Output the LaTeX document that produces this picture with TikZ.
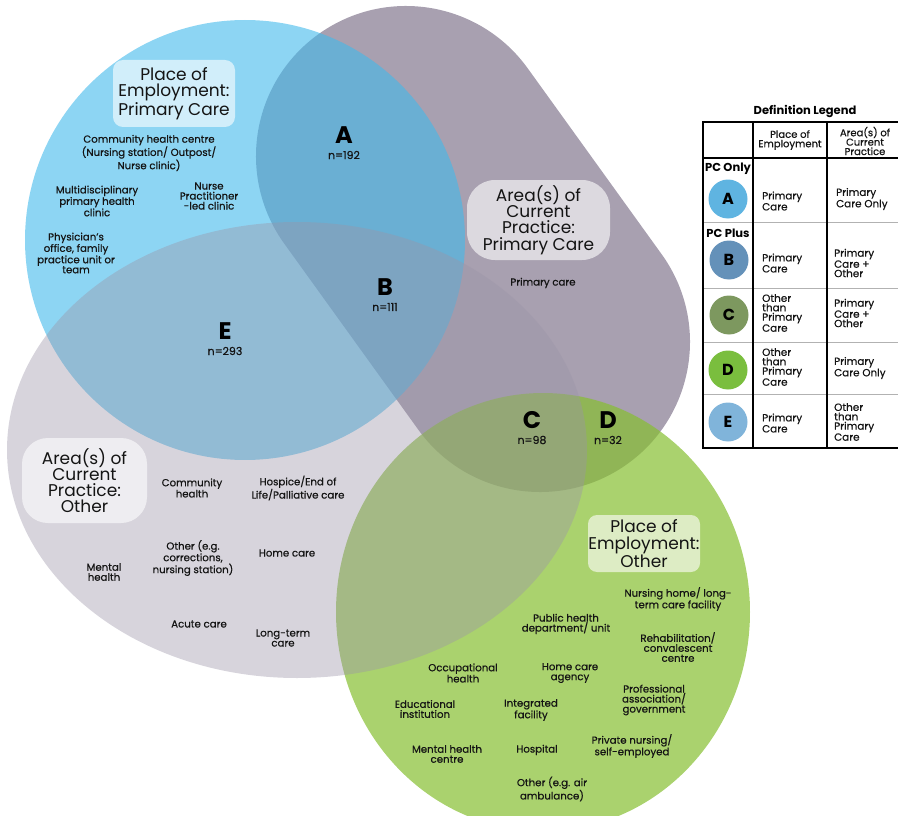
\documentclass[tikz,border=0pt]{standalone}
\usepackage{fontspec}
\setmainfont{Poppins}
\newfontfamily\itemfont{Poppins}[FakeBold=0.6]
\usepackage{tikz}
\usetikzlibrary{ % tikz packages
    positioning
}
\definecolor{pcblue}{RGB}{65,185,235}
\definecolor{pcpurple}{RGB}{168,160,176}
\definecolor{othgreen}{RGB}{134,191,48}
\definecolor{othgray}{RGB}{155,148,168}
\definecolor{inktext}{RGB}{20,20,20}
\tikzset{
    setbox/.style={fill=white, fill opacity=0.6, text opacity=1,
        align=center, inner sep=0pt, text=inktext,
        font=\fontsize{17}{16.2}\selectfont},
    item/.style={align=center, inner sep=0pt, text=inktext,
        font=\itemfont\fontsize{10.2}{10}\selectfont},
    region/.style={inner sep=0pt, font=\fontsize{24}{24}\selectfont\bfseries},
    count/.style={inner sep=0pt, text=inktext, font=\itemfont\fontsize{11}{11}\selectfont},
    lgtext/.style={align=left, anchor=west, inner sep=0pt, text=inktext,
        font=\itemfont\fontsize{10.4}{9.4}\selectfont},
    lgdot/.style={circle, minimum size=39pt, inner sep=0pt,
        font=\fontsize{16}{16}\selectfont\bfseries},
    lghead/.style={inner sep=0pt, font=\fontsize{11.5}{11.5}\selectfont\bfseries}
}

\begin{document}
\begin{tikzpicture}[x=1pt,y=-1pt,node distance=20pt,on grid]
    \useasboundingbox (0,0) rectangle (898,816);
    % the four sets
    \draw[pcpurple, line width=300pt, line cap=round] (406,156) -- (540,342);
    \fill[pcblue, fill opacity=0.6] (245,240) circle[radius=220];
    \fill[othgreen, fill opacity=0.7] (543,612) ellipse[x radius=207, y radius=219];
    \fill[othgray, fill opacity=0.4] (297,450) ellipse[x radius=290, y radius=228];

    % set names
    \node[setbox, rounded corners=10pt, minimum width=122pt, minimum height=67pt]
        (pcEmp) at (174,93.5) {Place of\\Employment:\\Primary Care};
    \node[setbox, rounded corners=28pt, minimum width=143pt, minimum height=80pt]
        (pcArea) at (538.5,220) {Area(s) of\\Current\\Practice:\\Primary Care};
    \node[setbox, rounded corners=26pt, minimum width=125pt, minimum height=85pt]
        (othArea) at (84.5,480.5) {Area(s) of\\Current\\Practice:\\Other};
    \node[setbox, rounded corners=9pt, minimum width=112pt, minimum height=57pt]
        (othEmp) at (644,543.5) {Place of\\Employment:\\Other};

    % regions
    \node[region] (A) at (344,135) {A};
    \node[count] (nA) [below=of A] {n=192};
    \node[region] (B) at (385,287) {B};
    \node[count] (nB) [below=of B] {n=111};
    \node[region] (C) at (532,420) {C};
    \node[count] (nC) [below=of C] {n=98};
    \node[region] (D) at (608,420) {D};
    \node[count] (nD) [below=of D] {n=32};
    \node[region] (E) at (225,331) {E};
    \node[count] (nE) [below=of E] {n=293};

    % primary care employment
    \node[item] (chc) at (149,153) {Community health centre\\(Nursing station/ Outpost/\\Nurse clinic)};
    \node[item] (mdc) at (97,201) {Multidisciplinary\\primary health\\clinic};
    \node[item] (npc) at (209,196) {Nurse\\Practitioner\\-led clinic};
    \node[item] (phy) at (76,253) {Physician’s\\office, family\\practice unit or\\team};
    % primary care practice
    \node[item] (pcare) at (543,283) {Primary care};
    % other practice
    \node[item] (comm) at (192,488) {Community\\health};
    \node[item] (hosp) at (298,488) {Hospice/End of\\Life/Palliative care};
    \node[item] (oth) at (193,558) {Other (e.g.\\corrections,\\nursing station)};
    \node[item] (home) at (287,553) {Home care};
    \node[item] (ment) at (104,572) {Mental\\health};
    \node[item] (acute) at (199,624) {Acute care};
    \node[item] (ltc) at (283,638) {Long-term\\care};
    % other employment
    \node[item] (nurh) at (678,599) {Nursing home/ long-\\term care facility};
    \node[item] (pub) at (566,624) {Public health\\department/ unit};
    \node[item] (rehab) at (678,647) {Rehabilitation/\\convalescent\\centre};
    \node[item] (occ) at (463,673) {Occupational\\health};
    \node[item] (hca) at (570,673) {Home care\\agency};
    \node[item] (prof) at (654,700) {Professional\\association/\\government};
    \node[item] (edu) at (425,709) {Educational\\institution};
    \node[item] (integ) at (531,710) {Integrated\\facility};
    \node[item] (mhc) at (447,754) {Mental health\\centre};
    \node[item] (hsp) at (537,750) {Hospital};
    \node[item] (priv) at (632,746) {Private nursing/\\self-employed};
    \node[item] (air) at (552,789) {Other (e.g. air\\ambulance)};

    % legend
    \node[lghead] (lgTitle) at (805,111) {Definition Legend};
    \draw[gray!60, line width=0.6pt] (703,222) -- (899,222) (703,288) -- (899,288)
        (703,342) -- (899,342) (703,394) -- (899,394);
    \draw[line width=1.1pt] (703,122) rectangle (899,448)
        (753,122) -- (753,448) (827,122) -- (827,448) (703,158) -- (899,158);
    \node[item, font=\itemfont\fontsize{10}{9.4}\selectfont] (hEmp) at (790,140) {Place of\\Employment};
    \node[item, font=\itemfont\fontsize{10}{9.4}\selectfont] (hArea) at (865,141) {Area(s) of\\Current\\Practice};
    \node[lghead] (pcOnly) at (728,169) {PC Only};
    \node[lghead] (pcPlus) at (728,233) {PC Plus};
    \node[lgdot, fill={rgb,255:red,95;green,180;blue,225}] (lgA) at (728,199) {A};
    \node[lgdot, fill={rgb,255:red,100;green,145;blue,185}] (lgB) at (729,260) {B};
    \node[lgdot, fill={rgb,255:red,125;green,152;blue,95}] (lgC) at (729,315) {C};
    \node[lgdot, fill={rgb,255:red,122;green,190;blue,62}] (lgD) at (728,370) {D};
    \node[lgdot, fill={rgb,255:red,128;green,180;blue,218}] (lgE) at (728,422) {E};
    \node[lgtext] (aEmp) at (762,201) {Primary\\Care};
    \node[lgtext] (aArea) at (836,199) {Primary\\Care Only};
    \node[lgtext] (bEmp) at (762,263) {Primary\\Care};
    \node[lgtext] (bArea) at (834,263) {Primary\\Care +\\Other};
    \node[lgtext] (cEmp) at (762,313) {Other\\than\\Primary\\Care};
    \node[lgtext] (cArea) at (834,313) {Primary\\Care +\\Other};
    \node[lgtext] (dEmp) at (762,367) {Other\\than\\Primary\\Care};
    \node[lgtext] (dArea) at (834,368) {Primary\\Care Only};
    \node[lgtext] (eEmp) at (762,423) {Primary\\Care};
    \node[lgtext] (eArea) at (834,422) {Other\\than\\Primary\\Care};
\end{tikzpicture}
\end{document}
